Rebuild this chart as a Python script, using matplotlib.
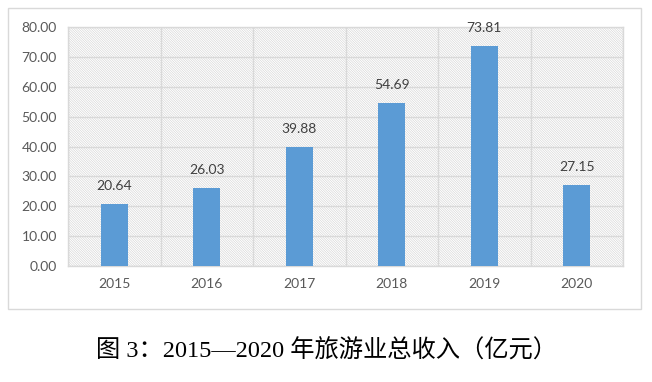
import matplotlib
matplotlib.use("Agg")
import matplotlib.pyplot as plt
from matplotlib.patches import Rectangle

years = ["2015", "2016", "2017", "2018", "2019", "2020"]
revenue = [20.64, 26.03, 39.88, 54.69, 73.81, 27.15]
yticks = [0, 10, 20, 30, 40, 50, 60, 70, 80]
caption = "图 3：2015—2020 年旅游业总收入（亿元）"

plt.rcParams['font.family'] = ['Lato', 'DejaVu Sans']
plt.rcParams['hatch.linewidth'] = 0.4

fig = plt.figure(figsize=(6.52, 3.82), dpi=100)
fig.patch.set_facecolor('white')

# outer frame
frame = Rectangle((8.3/652, 1-309/382), (641-8.3)/652, (309-8.3)/382,
                  transform=fig.transFigure, fill=False, edgecolor='#D9D9D9', linewidth=1.0)
fig.patches.append(frame)

ax = fig.add_axes([68/652, 1-266/382, (623-68)/652, (266-27.3)/382])
ax.set_xlim(-0.5, len(years)-0.5)
ax.set_ylim(0, 80)

# hatched background
bg = Rectangle((0, 0), 1, 1, transform=ax.transAxes, facecolor='white',
               edgecolor='#D0D0D0', hatch='\\' * 14, linewidth=0, zorder=0)
ax.add_patch(bg)

x = list(range(len(years)))
ax.bar(x, revenue, width=0.29, color='#5B9BD5', zorder=3)

for xi, v in zip(x, revenue):
    ax.annotate(f"{v:.2f}", (xi, v), xytext=(0, 13), textcoords='offset points',
                ha='center', va='center', fontsize=10, color='#404040', zorder=4)

ax.set_yticks(yticks)
ax.set_yticklabels([f"{t:.2f}" for t in yticks])
ax.set_xticks(x)
ax.set_xticklabels(years)
ax.tick_params(axis='both', length=0, labelsize=10, colors='#595959')
ax.tick_params(axis='y', pad=8)
ax.tick_params(axis='x', pad=9)

for t in yticks:
    ax.axhline(t, color='#D9D9D9', linewidth=1.0, zorder=1)
for b in [i + 0.5 for i in range(-1, len(years))]:
    ax.axvline(b, color='#D9D9D9', linewidth=1.0, zorder=1)

for s in ax.spines.values():
    s.set_color('#D9D9D9')
    s.set_linewidth(1.0)

fig.text(0.5, 1-351/382, caption, ha='center', va='center', fontsize=17.5,
         color='black', fontweight='light',
         family=['Liberation Serif', 'Noto Sans CJK SC'])

fig.savefig('out.png', dpi=100)
